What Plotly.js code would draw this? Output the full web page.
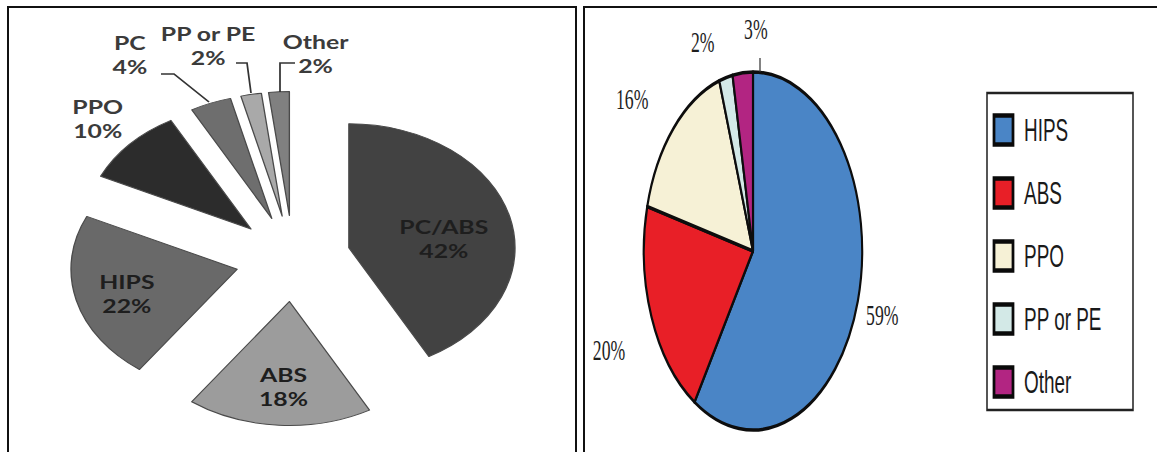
<!DOCTYPE html>
<html>
<head>
<meta charset="utf-8">
<script src="https://cdn.plot.ly/plotly-3.0.1.min.js"></script>
<style>
  html, body { margin: 0; padding: 0; background: #fff; }
  #page { position: relative; width: 1157px; height: 452px; overflow: hidden; background: #fff; }
  .plot { position: absolute; top: 0; height: 452px; transform-origin: 0 0; }
  #left  { left: 0;     width: 433px; transform: scaleX(1.34); }
  #right { left: 580px; width: 946px; transform: scaleX(0.61); }
  .frame { position: absolute; border: 2px solid #111; border-bottom: none; box-sizing: border-box; pointer-events: none; }
  #frameL { left: 7px;   top: 6px; width: 570px; height: 470px; }
  #frameR { left: 583px; top: 6px; width: 600px; height: 470px; }
</style>
</head>
<body>
<div id="page">
  <div id="left" class="plot"></div>
  <div id="right" class="plot"></div>
  <div id="frameL" class="frame"></div>
  <div id="frameR" class="frame"></div>
</div>
<script>
// ---- data: plastics found in housings (percent) ----
const leftLabels = ['PC/ABS', 'ABS', 'HIPS', 'PPO', 'PC', 'PP or PE', 'Other'];
const leftValues = [42, 18, 22, 10, 4, 2, 2];

const rightLabels = ['HIPS', 'ABS', 'PPO', 'PP or PE', 'Other'];
const rightValues = [59, 20, 16, 2, 3];

// ---- styles ----
const leftColors  = ['#424242', '#9c9c9c', '#696969', '#2c2c2c', '#6e6e6e', '#a9a9a9', '#808080'];
const rightColors = ['#4a85c6', '#e81f27', '#f6f1d6', '#d3e9e7', '#b22582'];

// ---- geometry (page pixels) ----
const H = 452;
const LG = { scale: 1.34, width: 433, cx: 293, cy: 258.5, r: 124, pull: 0.347 };
const RG = { scale: 0.61, left: 580, width: 946, cx: 753, cy: 251, r: 179 };

// label centres for the left chart, page pixels
const leftLabelPos = [[444, 239], [283, 387], [126, 293.5], [98, 119], [130, 55], [208, 46.5], [315, 54]];
// leader lines for the thin slices, page pixels
const leftLeaders = [
  [[161, 74], [174, 74], [209, 102]],
  [[236, 63], [247, 63], [251, 93]],
  [[295, 63], [280, 63], [280, 92]]
];
// value label centres for the right chart, page pixels
const rightLabelPos = [[882, 315], [609, 350], [632, 99], [703, 42], [756, 29]];

// page pixel -> paper coordinates of each panel
const lx = x => (x / LG.scale) / LG.width;
const rx = x => ((x - RG.left) / RG.scale) / RG.width;
const py = y => 1 - y / H;

function domainFor(g, ncx) {
  const half = g.r * (1 + (g.pull || 0));
  return {
    x: [(ncx - half) / g.width, (ncx + half) / g.width],
    y: [1 - (g.cy + half) / H, 1 - (g.cy - half) / H]
  };
}

// ---------- left: exploded grey pie ----------
const leftTrace = {
  type: 'pie',
  labels: leftLabels,
  values: leftValues,
  sort: false,
  direction: 'clockwise',
  rotation: 0,
  pull: leftValues.map(() => LG.pull),
  marker: { colors: leftColors, line: { color: '#4a4a4a', width: 1 } },
  textinfo: 'none',
  hoverinfo: 'skip',
  showlegend: false,
  domain: domainFor(LG, LG.cx / LG.scale)
};

const leftAnn = leftLabels.map((lab, i) => ({
  xref: 'paper', yref: 'paper',
  x: lx(leftLabelPos[i][0]), y: py(leftLabelPos[i][1]),
  xanchor: 'center', yanchor: 'middle',
  text: lab + '<br>' + leftValues[i] + '%',
  showarrow: false,
  font: { family: 'Lato, "Open Sans", sans-serif', size: 18.5, weight: 700, color: i < 3 ? '#1e1e1e' : '#3b3b3b' }
}));

const leftShapes = leftLeaders.map(pts => ({
  type: 'path', xref: 'paper', yref: 'paper',
  path: pts.map((p, k) => (k ? 'L' : 'M') + lx(p[0]) + ',' + py(p[1])).join(' '),
  line: { color: '#333', width: 1.3 }
}));

Plotly.newPlot('left', [leftTrace], {
  width: LG.width, height: H,
  margin: { l: 0, r: 0, t: 0, b: 0 },
  paper_bgcolor: 'rgba(0,0,0,0)',
  annotations: leftAnn,
  shapes: leftShapes
}, { staticPlot: true });

// ---------- right: coloured pie with legend ----------
const rightTrace = {
  type: 'pie',
  labels: rightLabels,
  values: rightValues,
  sort: false,
  direction: 'clockwise',
  rotation: 0,
  marker: { colors: rightColors, line: { color: '#0d0d0d', width: 3.5 } },
  textinfo: 'none',
  hoverinfo: 'skip',
  showlegend: false,
  domain: domainFor(RG, (RG.cx - RG.left) / RG.scale)
};

const rightAnn = rightValues.map((v, i) => ({
  xref: 'paper', yref: 'paper',
  x: rx(rightLabelPos[i][0]), y: py(rightLabelPos[i][1]),
  xanchor: 'center', yanchor: 'middle',
  text: v + '%',
  showarrow: false,
  font: { family: '"Liberation Serif", "Times New Roman", serif', size: 29, color: '#1e1e1e' }
}));

// legend box with one swatch + name per category
const legend = { x0: 987, x1: 1133, y0: 93, y1: 410, first: 130, step: 63, sw0: 994, sw1: 1013, half: 14.5, text: 1023 };
const rightShapes = [
  {
    type: 'rect', xref: 'paper', yref: 'paper',
    x0: rx(legend.x0), x1: rx(legend.x1), y0: py(legend.y1), y1: py(legend.y0),
    line: { color: '#222', width: 2.5 }, fillcolor: 'rgba(0,0,0,0)'
  },
  {
    type: 'path', xref: 'paper', yref: 'paper',
    path: 'M' + rx(760) + ',' + py(58) + ' L' + rx(760) + ',' + py(72),
    line: { color: '#333', width: 2 }
  }
];
rightLabels.forEach((lab, i) => {
  const yc = legend.first + i * legend.step;
  rightShapes.push({
    type: 'rect', xref: 'paper', yref: 'paper',
    x0: rx(legend.sw0), x1: rx(legend.sw1), y0: py(yc + legend.half), y1: py(yc - legend.half),
    fillcolor: rightColors[i], line: { color: '#0a0a0a', width: 4.5 }
  });
  rightAnn.push({
    xref: 'paper', yref: 'paper',
    x: rx(legend.text), y: py(yc),
    xanchor: 'left', yanchor: 'middle',
    text: lab, showarrow: false,
    font: { family: '"Liberation Sans", Arial, sans-serif', size: 31, color: '#1a1a1a' }
  });
});

Plotly.newPlot('right', [rightTrace], {
  width: RG.width, height: H,
  margin: { l: 0, r: 0, t: 0, b: 0 },
  paper_bgcolor: 'rgba(0,0,0,0)',
  annotations: rightAnn,
  shapes: rightShapes
}, { staticPlot: true });
</script>
</body>
</html>
